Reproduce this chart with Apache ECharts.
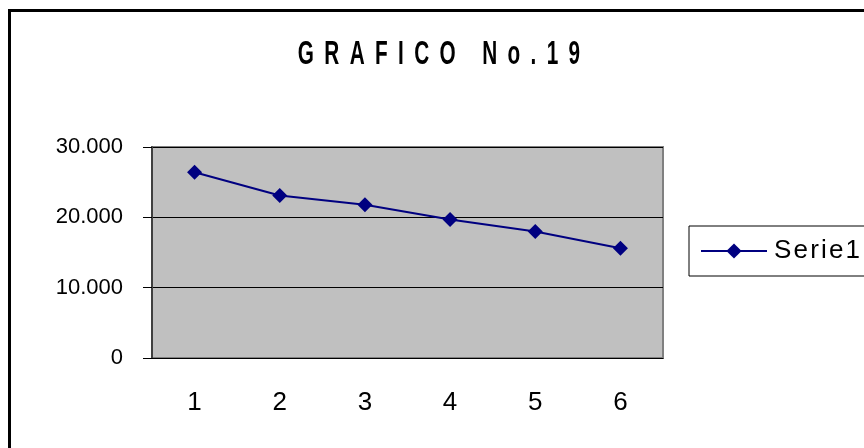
<!DOCTYPE html>
<html>
<head>
<meta charset="utf-8">
<script src="https://cdn.jsdelivr.net/npm/echarts@6/dist/echarts.min.js"></script>
<style>
  html, body { margin: 0; padding: 0; background: #fff; }
  #chart-div { width: 864px; height: 448px; }
</style>
</head>
<body>
<div id="chart-div"></div>
<script>
// kaavion data
const categories = ['1', '2', '3', '4', '5', '6']
const serie1 = [26400, 23100, 21800, 19700, 18000, 15600]
const yTicks = [0, 10000, 20000, 30000]
const titleText = 'GRAFICO No.19'
const seriesName = 'Serie1'

const font = "'Liberation Sans', Arial, sans-serif"

// harvennettu otsikko (merkkien väli)
function spaced(s, sep) {
    return s.split('').join(sep)
}

function yLabel(v) {
    if (v === 0) return '0'
    return (v / 1000).toFixed(0) + '.000'
}

let myChart = echarts.init(document.getElementById('chart-div'))

const option = {
    animation: false,
    backgroundColor: '#fff',
    graphic: [{
        type: 'rect',
        shape: { x: 9.5, y: 10.5, width: 1000, height: 1000 },
        style: { fill: 'none', stroke: '#000', lineWidth: 3 },
        z: 100
    }, {
        // otsikko kavennettuna kuten alkuperäisessä
        type: 'text',
        x: 439,
        y: 38,
        scaleX: 0.61,
        style: {
            text: spaced(titleText, '\u2002'),
            textAlign: 'center',
            textVerticalAlign: 'top',
            fontFamily: font,
            fontSize: 34,
            fontWeight: 'bold',
            fill: '#000'
        }
    }],
    legend: {
        data: [seriesName],
        left: 689,
        top: 226,
        orient: 'vertical',
        padding: [12, 30, 12, 11],
        borderColor: '#000',
        borderWidth: 1,
        itemWidth: 66,
        itemHeight: 19,
        itemGap: 0,
        textStyle: { fontFamily: font, fontSize: 26, color: '#000', padding: [0, 0, 0, 2] },
        formatter: function (n) { return spaced(n, '\u200a') }
    },
    grid: {
        left: 152,
        top: 147,
        right: 201,
        bottom: 90,
        show: true,
        backgroundColor: '#c0c0c0',
        borderColor: '#808080',
        borderWidth: 2
    },
    xAxis: {
        type: 'category',
        data: categories,
        boundaryGap: true,
        axisLine: { lineStyle: { color: '#000', width: 1 } },
        axisTick: { length: 8, lineStyle: { color: '#000' } },
        axisLabel: { margin: 32, fontFamily: font, fontSize: 26, color: '#000' }
    },
    yAxis: {
        type: 'value',
        min: yTicks[0],
        max: yTicks[yTicks.length - 1],
        interval: yTicks[1] - yTicks[0],
        axisLine: { show: true, lineStyle: { color: '#404040', width: 2 } },
        axisTick: { show: true, length: 9, lineStyle: { color: '#000' } },
        axisLabel: { margin: 29, fontFamily: font, fontSize: 22, color: '#000', formatter: yLabel },
        splitLine: { lineStyle: { color: '#000', width: 1 } }
    },
    series: [{
        name: seriesName,
        type: 'line',
        data: serie1,
        symbol: 'diamond',
        symbolSize: 15,
        lineStyle: { color: '#000080', width: 2 },
        itemStyle: { color: '#000080' }
    }]
}

myChart.setOption(option)
</script>
</body>
</html>
